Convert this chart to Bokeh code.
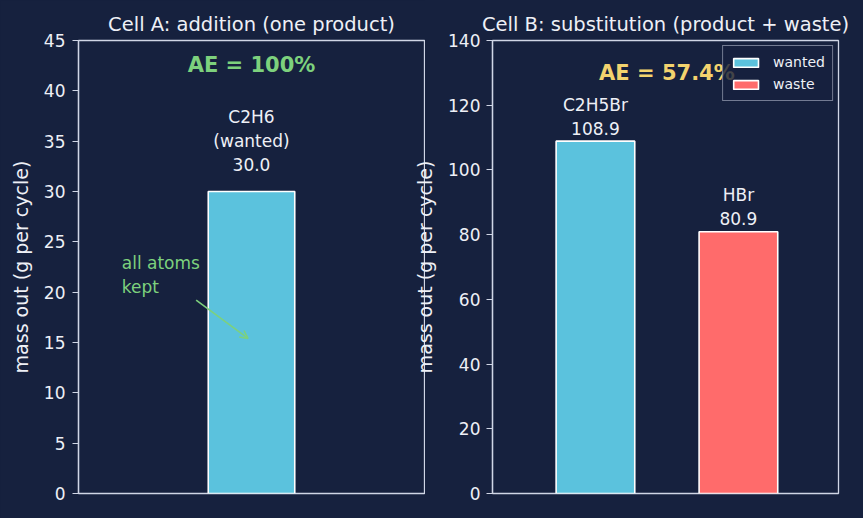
from bokeh.plotting import figure
from bokeh.layouts import row
from bokeh.models import ColumnDataSource, Range1d, FixedTicker, Arrow, OpenHead, Label
from bokeh.embed import file_html
from bokeh.resources import INLINE
from bokeh.core.properties import value

# ---- data -------------------------------------------------------------
# Cell A: addition, a single product
a_species = ["C2H6"]
a_roles = ["wanted"]
a_mass = [30.0]

# Cell B: substitution, product plus waste
b_species = ["C2H5Br", "HBr"]
b_roles = ["wanted", "waste"]
b_mass = [108.9, 80.9]

a_yticks = [0, 5, 10, 15, 20, 25, 30, 35, 40, 45]
b_yticks = [0, 20, 40, 60, 80, 100, 120, 140]

# ---- style ------------------------------------------------------------
BG = "#16213e"
SPINE = "#d0d6e6"
TXT = "#eef0f6"
FONT = "DejaVu Sans"
CYAN = "#5bc2dd"
RED = "#ff6b6b"
GREEN = "#7dd17d"
GOLD = "#f3d36e"
ROLE_COLORS = {"wanted": CYAN, "waste": RED}

# the second panel slides left over the first one's right border
OVERLAP = 16


def atom_economy(masses, roles):
    wanted = sum(m for m, r in zip(masses, roles) if r == "wanted")
    return 100.0 * wanted / sum(masses)


def fmt_pct(v):
    return f"{round(v, 1):g}%"


def style(p, ticks):
    p.background_fill_color = BG
    p.border_fill_color = BG
    p.outline_line_color = SPINE
    p.outline_line_width = 1.3
    p.xgrid.visible = False
    p.ygrid.visible = False
    p.xaxis.visible = False
    ax = p.yaxis[0]
    ax.ticker = FixedTicker(ticks=ticks)
    ax.axis_label = "mass out (g per cycle)"
    ax.axis_label_text_font = FONT
    ax.axis_label_text_font_size = "19px"
    ax.axis_label_text_font_style = "normal"
    ax.axis_label_text_color = TXT
    ax.axis_line_color = SPINE
    ax.axis_line_width = 1.3
    ax.major_tick_line_color = SPINE
    ax.major_tick_line_width = 1.2
    ax.major_tick_out = 6
    ax.major_tick_in = 0
    ax.minor_tick_line_color = None
    ax.major_label_text_font = FONT
    ax.major_label_text_font_size = "17px"
    ax.major_label_text_color = TXT
    ax.major_label_standoff = 7
    p.title.text_font = FONT
    p.title.text_font_size = "19.5px"
    p.title.text_font_style = "normal"
    p.title.text_color = TXT
    p.title.align = "center"


# ---- Cell A -----------------------------------------------------------
pa = figure(width=425, height=518, x_range=Range1d(-1, 1), y_range=Range1d(0, 45),
            title="Cell A: addition (one product)", output_backend="svg",
            toolbar_location=None, min_border_left=78, min_border_right=1,
            min_border_top=40, min_border_bottom=25)
style(pa, a_yticks)
pa.yaxis[0].axis_label_standoff = 9

src_a = ColumnDataSource(dict(
    x=list(range(len(a_species))),
    mass=a_mass,
    color=[ROLE_COLORS[r] for r in a_roles],
    label=[f"{s}\n({r})\n{m:.1f}" for s, r, m in zip(a_species, a_roles, a_mass)],
    label_y=[m + 2 for m in a_mass],
))
pa.vbar(x="x", top="mass", width=0.5, source=src_a, fill_color="color",
        line_color="white", line_width=1.6)
pa.text(x="x", y="label_y", text="label", source=src_a, text_align="center",
        text_baseline="bottom", text_font=value(FONT), text_font_size="17px",
        text_color=TXT, text_line_height=1.2, y_offset=4)

pa.add_layout(Label(x=0, y=42.6, text=f"AE = {fmt_pct(atom_economy(a_mass, a_roles))}",
                    text_align="center", text_baseline="middle", text_font=FONT,
                    text_font_size="21px", text_font_style="bold", text_color=GREEN))
pa.add_layout(Label(x=-0.75, y=20, text="all atoms\nkept", text_align="left",
                    text_baseline="bottom", y_offset=-5, text_font=FONT,
                    text_font_size="17px", text_color=GREEN))
pa.add_layout(Arrow(end=OpenHead(size=8, line_color=GREEN, line_width=1.6),
                    x_start=-0.32, y_start=19.2, x_end=-0.02, y_end=15.4,
                    line_color=GREEN, line_width=1.6))

# ---- Cell B -----------------------------------------------------------
pb = figure(width=438 + OVERLAP, height=518, x_range=Range1d(-0.72, 1.7),
            y_range=Range1d(0, 140),
            title="Cell B: substitution (product + waste)", output_backend="svg",
            toolbar_location=None, min_border_left=67 + OVERLAP, min_border_right=25,
            min_border_top=40, min_border_bottom=25)
style(pb, b_yticks)
pb.border_fill_alpha = 0
pb.margin = (0, 0, 0, -OVERLAP)
pb.yaxis[0].axis_label_standoff = 9
pb.yaxis[0].major_label_standoff = 6

pb.add_layout(Label(x=0.5, y=130, text=f"AE = {fmt_pct(atom_economy(b_mass, b_roles))}",
                    text_align="center", text_baseline="middle", text_font=FONT,
                    text_font_size="21px", text_font_style="bold", text_color=GOLD))

src_b = ColumnDataSource(dict(
    x=list(range(len(b_species))),
    mass=b_mass,
    role=b_roles,
    color=[ROLE_COLORS[r] for r in b_roles],
    label=[f"{s}\n{m:.1f}" for s, m in zip(b_species, b_mass)],
    label_y=[m + 2 for m in b_mass],
))
pb.vbar(x="x", top="mass", width=0.55, source=src_b, fill_color="color",
        line_color="white", line_width=1.6, legend_field="role")
pb.text(x="x", y="label_y", text="label", source=src_b, text_align="center",
        text_baseline="bottom", text_font=value(FONT), text_font_size="17px",
        text_color=TXT, text_line_height=1.2, y_offset=4)

lg = pb.legend[0]
lg.location = "top_right"
lg.margin = 5
lg.padding = 7
lg.spacing = 4
lg.glyph_width = 31
lg.glyph_height = 11
lg.label_height = 18
lg.label_standoff = 12
lg.label_text_font = FONT
lg.label_text_font_size = "14px"
lg.label_text_color = TXT
lg.background_fill_color = BG
lg.background_fill_alpha = 0.8
lg.border_line_color = SPINE
lg.border_line_width = 1.3

layout = row(pa, pb, styles={"background-color": BG})
open("out.html", "w").write(file_html(layout, INLINE))
